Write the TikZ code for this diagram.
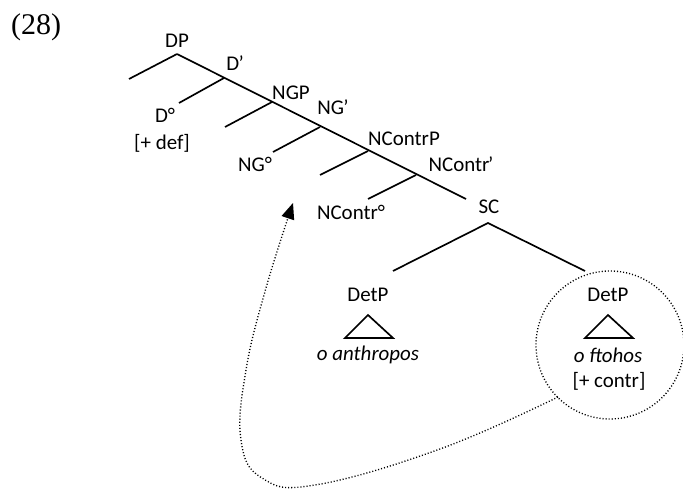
\documentclass[tikz,border=0pt]{standalone}
\usepackage{fontspec}
\setmainfont{Carlito}
\newfontfamily\numfont{Liberation Serif}
\usetikzlibrary{arrows.meta}
\begin{document}
\begin{tikzpicture}[x=0.75pt,y=-0.75pt,
  lbl/.style={inner sep=0pt,anchor=center,font=\fontsize{15.7}{18}\selectfont},
  branch/.style={line width=1.25pt},
  dotline/.style={line width=1pt,dash pattern=on 0.8pt off 1.5pt}]
\useasboundingbox (0,0) rectangle (683,489);
\node[inner sep=0pt,font=\numfont\fontsize{22.5}{24}\selectfont] (num) at (36,27) {(28)};
% spine junctions
\coordinate (j0) at (177,54);
\coordinate (j1) at (224,78);
\coordinate (j2) at (272,102);
\coordinate (j3) at (320,127);
\coordinate (j4) at (368,151);
\coordinate (j5) at (416,175);
\coordinate (jend) at (466,199);
% left branch ends
\coordinate (l0) at (129,79);
\coordinate (l1) at (179,103);
\coordinate (l2) at (225,127);
\coordinate (l3) at (273,152);
\coordinate (l4) at (320,175);
\coordinate (l5) at (368,199);
\draw[branch] (j0) -- (jend);
\foreach \i in {0,...,5} \draw[branch] (j\i) -- (l\i);
% labels
\node[lbl] (dp) at (177,41) {DP};
\node[lbl] (dbar) at (235,63) {D\kern-0.5pt’};
\node[lbl] (ngp) at (291,93) {NGP};
\node[lbl] (ngbar) at (333,107) {NG\kern-0.5pt’};
\node[lbl] (ncp) at (404,139) {NContrP};
\node[lbl] (ncbar) at (461,164) {NContr\kern-1pt’};
\node[lbl] (sc) at (489,207) {SC};
\node[lbl] (d0) at (165,115) {D°};
\node[lbl] (def) at (162,143) {[+ def]};
\node[lbl] (ng0) at (255,164) {NG°};
\node[lbl] (nc0) at (351,212) {NContr°};
% SC subtree
\coordinate (sctop) at (488,223);
\coordinate (scl) at (393,271);
\coordinate (scr) at (585,271);
\draw[branch] (scl) -- (sctop) -- (scr);
\node[lbl] (detl) at (368,295) {DetP};
\node[lbl] (detr) at (608,295) {DetP};
\draw[branch] (368,315) -- (345,338) -- (393,338) -- cycle;
\draw[branch] (608,315) -- (585,338) -- (633,338) -- cycle;
\node[lbl] (anth) at (368,355) {\itshape o anthropos};
\node[lbl] (ftoh) at (608,355) {\itshape o ftohos};
\node[lbl] (contr) at (609,381) {[+ contr]};
% dotted circle and movement arrow
\coordinate (cc) at (610,345);
\draw[dotline] (cc) circle[radius=74];
\coordinate (mvstart) at (558,397);
\coordinate (mvend) at (293,203);
\draw[dotline,-{Triangle[length=12pt,width=10pt,line width=0pt]}]
  plot[smooth,tension=0.7] coordinates {(mvstart) (440,449) (315,485) (262,478) (241,440) (246,370) (266,288) (mvend)};
\end{tikzpicture}
\end{document}
